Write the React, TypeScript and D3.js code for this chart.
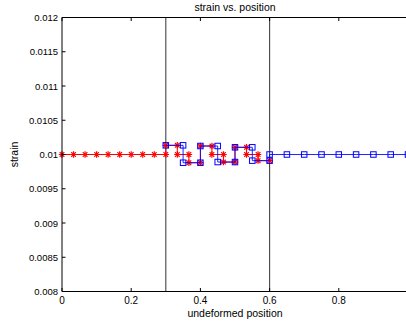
import React from "react";
import * as d3 from "d3";

const title = "strain vs. position";
const xLabel = "undeformed position";
const yLabel = "strain";

const xTicks = [0, 0.2, 0.4, 0.6, 0.8];
const xTickLabels = ["0", "0.2", "0.4", "0.6", "0.8"];
const yTicks = [0.008, 0.0085, 0.009, 0.0095, 0.01, 0.0105, 0.011, 0.0115, 0.012];
const yTickLabels = ["0.008", "0.0085", "0.009", "0.0095", "0.01", "0.0105", "0.011", "0.0115", "0.012"];

const interfaceX = [0.3, 0.6];

// fine (red, stars)
const redX = [
  0, 0.0333, 0.0667, 0.1, 0.1333, 0.1667, 0.2, 0.2333, 0.2667, 0.3,
  0.3, 0.3333, 0.3333, 0.3667, 0.3667, 0.4, 0.4, 0.4333, 0.4333, 0.4667,
  0.4667, 0.5, 0.5, 0.5333, 0.5333, 0.5667, 0.5667, 0.6,
];
const redY = [
  0.01, 0.01, 0.01, 0.01, 0.01, 0.01, 0.01, 0.01, 0.01, 0.01,
  0.010134, 0.010134, 0.01, 0.01, 0.00988, 0.00988, 0.010124, 0.010124, 0.01, 0.01,
  0.00989, 0.00989, 0.010105, 0.010105, 0.01, 0.01, 0.00991, 0.00991,
];

// coarse (blue, squares)
const blueX = [
  0.3, 0.35, 0.35, 0.4, 0.4, 0.45, 0.45, 0.5, 0.5, 0.55, 0.55, 0.6,
  0.6, 0.65, 0.7, 0.75, 0.8, 0.85, 0.9, 0.95, 1.0,
];
const blueY = [
  0.010134, 0.010134, 0.00988, 0.00988, 0.010124, 0.010124, 0.00989, 0.00989, 0.010105, 0.010105, 0.00991, 0.00991,
  0.01, 0.01, 0.01, 0.01, 0.01, 0.01, 0.01, 0.01, 0.01,
];

const W = 406;
const H = 328;
const left = 62;
const right = 408;
const top = 17.5;
const bottom = 291.5;
const font = "'Liberation Sans', Arial, Helvetica, sans-serif";

export default function App() {
  const x = d3.scaleLinear().domain([0, 1]).range([left, right]);
  const y = d3.scaleLinear().domain([0.008, 0.012]).range([bottom, top]);
  const line = d3
    .line<[number, number]>()
    .x((d) => x(d[0]))
    .y((d) => y(d[1]));
  const red: [number, number][] = redX.map((v, i) => [v, redY[i]]);
  const blue: [number, number][] = blueX.map((v, i) => [v, blueY[i]]);
  const star = (cx: number, cy: number, k: number) => {
    const r = 3.2;
    const d = r * 0.72;
    return (
      <g key={k} stroke="#ff0000" strokeWidth={1.2}>
        <line x1={cx - r} y1={cy} x2={cx + r} y2={cy} />
        <line x1={cx} y1={cy - r} x2={cx} y2={cy + r} />
        <line x1={cx - d} y1={cy - d} x2={cx + d} y2={cy + d} />
        <line x1={cx - d} y1={cy + d} x2={cx + d} y2={cy - d} />
      </g>
    );
  };
  const s = 5.5;
  return (
    <svg
      width={W}
      height={H}
      style={{ position: "absolute", left: 0, top: 0, background: "#fff" }}
      fontFamily={font}
    >
      <rect x={0} y={0} width={W} height={H} fill="#fff" />
      <defs>
        <clipPath id="plotClip">
          <rect x={left - 6} y={top - 6} width={right - left + 12} height={bottom - top + 12} />
        </clipPath>
      </defs>
      {/* interface lines */}
      {interfaceX.map((v) => (
        <line key={v} x1={x(v)} x2={x(v)} y1={top} y2={bottom} stroke="#444" strokeWidth={1.1} />
      ))}
      <g clipPath="url(#plotClip)">
        <path d={line(red) || ""} fill="none" stroke="#ff0000" strokeWidth={1} />
        {red.map((d, i) => star(x(d[0]), y(d[1]), i))}
        <path d={line(blue) || ""} fill="none" stroke="#0000ff" strokeWidth={1} strokeOpacity={0.85} />
        {blue.map((d, i) => (
          <rect
            key={i}
            x={x(d[0]) - s / 2}
            y={y(d[1]) - s / 2}
            width={s}
            height={s}
            fill="none"
            stroke="#0000ff"
            strokeWidth={1}
          />
        ))}
      </g>
      {/* axes frame */}
      <line x1={left} x2={left} y1={top} y2={bottom} stroke="#000" strokeWidth={1} />
      <line x1={left} x2={right} y1={top} y2={top} stroke="#000" strokeWidth={1} />
      <line x1={left} x2={right} y1={bottom} y2={bottom} stroke="#000" strokeWidth={1} />
      <line x1={right} x2={right} y1={top} y2={bottom} stroke="#000" strokeWidth={1} />
      {/* x ticks */}
      {xTicks.map((v, i) => (
        <g key={"xt" + i}>
          <line x1={x(v)} x2={x(v)} y1={bottom} y2={bottom - 3.5} stroke="#000" />
          <line x1={x(v)} x2={x(v)} y1={top} y2={top + 3.5} stroke="#000" />
          <text x={x(v)} y={bottom + 12} textAnchor="middle" fontSize={10} fill="#000">
            {xTickLabels[i]}
          </text>
        </g>
      ))}
      {/* y ticks */}
      {yTicks.map((v, i) => (
        <g key={"yt" + i}>
          <line x1={left} x2={left + 3.5} y1={y(v)} y2={y(v)} stroke="#000" />
          <text x={left - 4} y={y(v) + 3.5} textAnchor="end" fontSize={9.5} fill="#000">
            {yTickLabels[i]}
          </text>
        </g>
      ))}
      <text x={(left + right) / 2} y={11} textAnchor="middle" fontSize={10.5} fill="#000">
        {title}
      </text>
      <text x={(left + right) / 2} y={317} textAnchor="middle" fontSize={10.5} fill="#000">
        {xLabel}
      </text>
      <text
        transform={`translate(18, ${(top + bottom) / 2}) rotate(-90)`}
        textAnchor="middle"
        fontSize={10.5}
        fill="#000"
      >
        {yLabel}
      </text>
    </svg>
  );
}
